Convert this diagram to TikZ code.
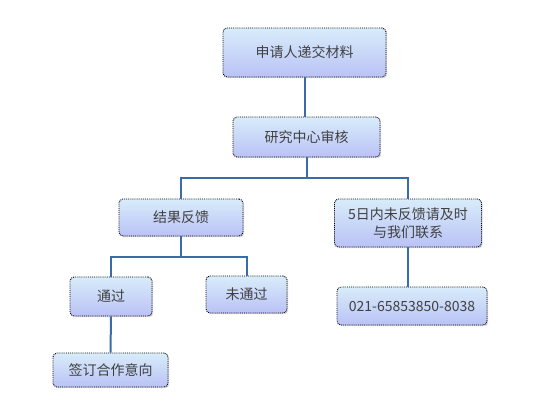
\documentclass[tikz,border=0pt]{standalone}
\usepackage{fontspec}
\newfontfamily\cjk{Noto Sans CJK SC}
\usetikzlibrary{shadows}
\definecolor{celltop}{RGB}{216,236,250}
\definecolor{cellbottom}{RGB}{186,194,246}
\definecolor{linkblue}{RGB}{58,108,172}

\begin{document}
\begin{tikzpicture}[
  x=1pt,y=-1pt,
  cell/.style={draw=black,densely dotted,line width=0.9pt,rounded corners=4pt,
    top color=celltop,bottom color=cellbottom,
    drop shadow={shadow xshift=1.2pt,shadow yshift=-1.2pt,opacity=0.3},
    align=center,inner sep=2pt,font=\cjk\fontsize{14}{18}\selectfont,text=black!75},
  link/.style={draw=linkblue,line width=2pt}
]
\useasboundingbox (0,0) rectangle (548,416);
\node[cell,minimum width=163pt,minimum height=49pt] (n1) at (304.5,52.5) {申请人递交材料};
\node[cell,minimum width=147pt,minimum height=40pt] (n2) at (306.5,137) {研究中心审核};
\node[cell,minimum width=124pt,minimum height=37pt] (n3) at (181,217.5) {结果反馈};
\node[cell,minimum width=147pt,minimum height=48pt] (n4) at (408,223) {5日内未反馈请及时\\与我们联系};
\node[cell,minimum width=82pt,minimum height=39pt] (n5) at (111,296.5) {通过};
\node[cell,minimum width=81pt,minimum height=37pt] (n6) at (246.5,294.5) {未通过};
\node[cell,minimum width=150pt,minimum height=38pt] (n7) at (412,306) {021-65853850-8038};
\node[cell,minimum width=115pt,minimum height=34pt] (n8) at (110.5,370) {签订合作意向};
% connectors
\draw[link] (n1.south) -- (n1.south |- n2.north);
\draw[link] (n2.south) -- ++(0,21) coordinate (j1) -| (n3.north);
\draw[link] (j1) -| (n4.north);
\draw[link] (n3.south) -- ++(0,21) coordinate (j2) -| (n5.north);
\draw[link] (j2) -| (n6.north);
\draw[link] (n4.south) -- (n7.north -| n4.south);
\draw[link] (n5.south) -- (n8.north);
\end{tikzpicture}
\end{document}
